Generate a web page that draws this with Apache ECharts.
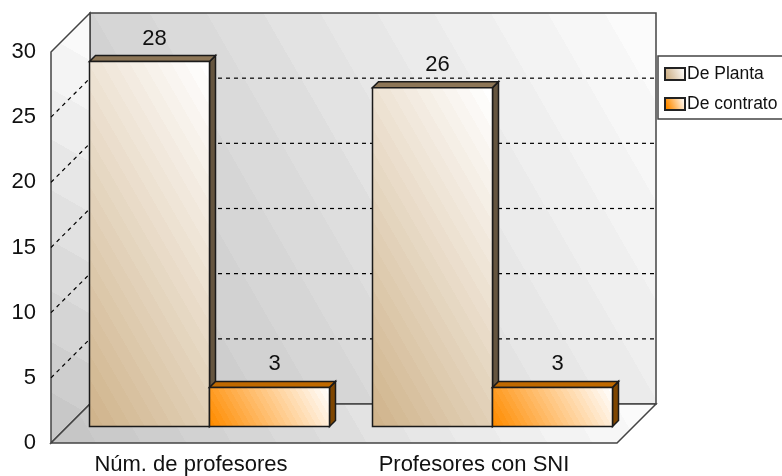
<!DOCTYPE html>
<html>
<head>
<meta charset="utf-8">
<style>html,body{margin:0;padding:0;background:#fff;overflow:hidden}#c{width:782px;height:476px}</style>
<script src="https://cdn.jsdelivr.net/npm/echarts@6/dist/echarts.min.js"></script>
</head>
<body>
<div id="c"></div>
<script>
const categories = ['Núm. de profesores', 'Profesores con SNI'];
const planta = [28, 26];
const contrato = [3, 3];
const seriesNames = ['De Planta', 'De contrato'];
const yMax = 30, yStep = 5;

const FONT = '"Liberation Sans", Arial, sans-serif';
const DEPTH = 39, BAR_OFFSET_X = 17, BAR_OFFSET_Y = 16.5, BAR_DEPTH = 6, BAR_FRAC = 120 / 283;

// Stepped diagonal gradient between two colours, from bottom-left to top-right of a box
function hex(c){return [1,3,5].map(i=>parseInt(c.substr(i,2),16));}
function banded(c0, c1, x, y, w, h, bands, ux, uy) {
  ux = ux === undefined ? 0.87 : ux; uy = uy === undefined ? 0.5 : uy;
  const len = ux * w + uy * h;
  const a = hex(c0), b = hex(c1), stops = [];
  for (let i = 0; i < bands; i++) {
    const t = i / (bands - 1);
    const col = 'rgb(' + a.map((v, k) => Math.round(v + (b[k] - v) * t)).join(',') + ')';
    stops.push({offset: i / bands, color: col}, {offset: (i + 1) / bands, color: col});
  }
  return {type: 'linear', global: true, x: x, y: y + h, x2: x + ux * len, y2: y + h - uy * len, colorStops: stops};
}
function poly(points, fill, stroke, lw) {
  return {type: 'polygon', shape: {points: points}, style: {fill: fill, stroke: stroke, lineWidth: lw}};
}

function renderWalls(params, api) {
  const r = params.coordSys;
  const L = r.x, R = r.x + r.width, T = r.y, B = r.y + r.height, d = DEPTH;
  const edge = '#444444';
  const kids = [
    poly([[L + d, T - d], [R + d, T - d], [R + d, B - d], [L + d, B - d]],
      banded('#c6c6c6', '#fbfbfb', L + d, T - d, r.width, r.height, 14), edge, 1.5),
    poly([[L, T], [L + d, T - d], [L + d, B - d], [L, B]],
      banded('#c8c8c8', '#fafafa', L, T - d, d, r.height + d, 9, 0.5, 0.87), edge, 1.5),
    poly([[L, B], [L + d, B - d], [R + d, B - d], [R, B]],
      banded('#c6c6c6', '#fbfbfb', L, B - d, r.width + d, d, 14), edge, 1.5)
  ];
  for (let v = yStep; v < yMax; v += yStep) {
    const y = api.coord([0, v])[1];
    const ls = {stroke: '#000', lineWidth: 1.2, lineDash: [4, 4], fill: null};
    kids.push({type: 'line', shape: {x1: L, y1: y, x2: L + d, y2: y - d}, style: ls});
    kids.push({type: 'line', shape: {x1: L + d, y1: y - d, x2: R + d, y2: y - d}, style: ls});
  }
  return {type: 'group', children: kids};
}

function barRenderer(slot, light, side, top) {
  return function (params, api) {
    const band = api.size([1, 0])[0];
    const w = band * BAR_FRAC;
    const c = api.coord([api.value(0), api.value(1)]);
    const base = api.coord([api.value(0), 0]);
    const x0 = c[0] + BAR_OFFSET_X + (slot === 0 ? -w : 0);
    const x1 = x0 + w, yT = c[1] - BAR_OFFSET_Y, yB = base[1] - BAR_OFFSET_Y, D = BAR_DEPTH;
    const line = '#1a1a1a';
    return {type: 'group', children: [
      poly([[x1, yT], [x1 + D, yT - D], [x1 + D, yB - D], [x1, yB]], side, line, 1.5),
      poly([[x0, yT], [x0 + D, yT - D], [x1 + D, yT - D], [x1, yT]], top, line, 1.5),
      poly([[x0, yT], [x1, yT], [x1, yB], [x0, yB]], banded(light, '#ffffff', x0, yT, w, yB - yT, 24), line, 1.5),
      {type: 'text', style: {text: String(api.value(1)), x: (x0 + x1) / 2 + 5, y: yT - 23,
        textAlign: 'center', textVerticalAlign: 'middle', font: '22px ' + FONT, fill: '#111'}}
    ]};
  };
}
function legendFill(c) {
  return {type: 'linear', x: 0, y: 1, x2: 1, y2: 0.4, colorStops: [{offset: 0, color: c}, {offset: 0.2, color: c}, {offset: 1, color: '#fff'}]};
}

const chart = echarts.init(document.getElementById('c'), null, {renderer: 'canvas'});
chart.setOption({
  animation: false,
  backgroundColor: '#fff',
  grid: {left: 51, top: 52, width: 566, height: 391, containLabel: false},
  xAxis: {type: 'category', data: categories,
    axisLine: {show: false}, axisTick: {show: false}, splitLine: {show: false},
    axisLabel: {fontFamily: FONT, fontSize: 22, color: '#111', margin: 11, padding: [0, 3, 0, 0]}},
  yAxis: {type: 'value', min: 0, max: yMax, interval: yStep,
    axisLine: {show: false}, axisTick: {show: false}, splitLine: {show: false},
    axisLabel: {fontFamily: FONT, fontSize: 22, color: '#111', margin: 15}},
  legend: {orient: 'vertical', left: 658, top: 56, data: seriesNames, icon: 'rect',
    itemWidth: 20, itemHeight: 12, itemGap: 12, itemSymbolKeepAspect: false,
    padding: [9, 12, 6, 6], backgroundColor: '#fff', borderColor: '#444', borderWidth: 1.5,
    textStyle: {fontFamily: FONT, fontSize: 17.5, color: '#111', padding: [0, 0, 0, -3]}},
  series: [
    {type: 'custom', silent: true, z: 1, data: [[0, 0]], renderItem: renderWalls, clip: false, legendHoverLink: false},
    {type: 'custom', name: seriesNames[0], z: 2, clip: false,
      itemStyle: {color: legendFill('#d0b48c'), borderColor: '#222', borderWidth: 1.5},
      data: planta.map((v, i) => [i, v]), encode: {x: 0, y: 1},
      renderItem: barRenderer(0, '#d0b48c', '#65553f', '#8d7657')},
    {type: 'custom', name: seriesNames[1], z: 3, clip: false,
      itemStyle: {color: legendFill('#ff8c00'), borderColor: '#222', borderWidth: 1.5},
      data: contrato.map((v, i) => [i, v]), encode: {x: 0, y: 1},
      renderItem: barRenderer(1, '#ff8c00', '#7f4600', '#bf6900')}
  ]
});
</script>
</body>
</html>
